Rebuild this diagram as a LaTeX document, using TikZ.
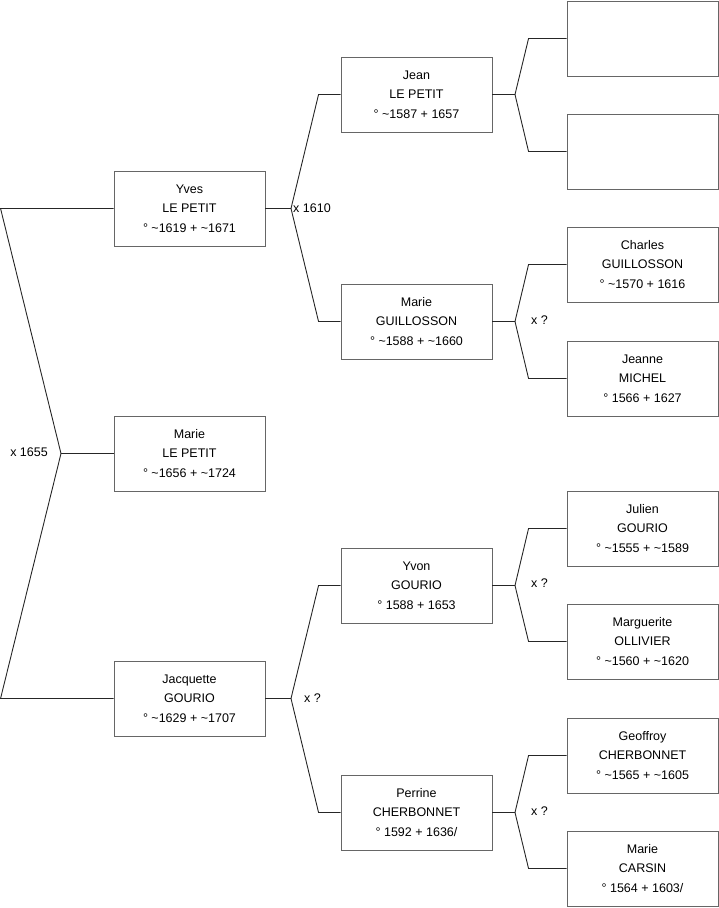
\documentclass[tikz,border=0pt]{standalone}
\usepackage{fontspec}
\setmainfont{Liberation Sans}
\newcommand{\circa}{\textasciitilde}
\tikzset{
  p/.style={draw=black!60,line width=0.9pt,minimum width=151pt,minimum height=75pt,inner sep=0pt,align=center,font=\fontsize{12.5}{19.5}\selectfont},
  lk/.style={draw=black!85,line width=0.9pt},
  mx/.style={inner sep=0pt,font=\fontsize{12.5}{15}\selectfont},
}
\begin{document}
\begin{tikzpicture}[x=1pt,y=-1pt]
\useasboundingbox (0,0) rectangle (719,908);
% generation 1
\node[p] (yves) at (189.5,208.5){Yves\\LE PETIT\\° \circa1619 + \circa1671};
\node[p] (marie) at (189.5,453.5){Marie\\LE PETIT\\° \circa1656 + \circa1724};
\node[p] (jacq) at (189.5,698.5){Jacquette\\GOURIO\\° \circa1629 + \circa1707};
% generation 2
\node[p] (jean) at (416.5,94.5){Jean\\LE PETIT\\° \circa1587 + 1657};
\node[p] (marieg) at (416.5,321.5){Marie\\GUILLOSSON\\° \circa1588 + \circa1660};
\node[p] (yvon) at (416.5,585.5){Yvon\\GOURIO\\° 1588 + 1653};
\node[p] (perrine) at (416.5,812.5){Perrine\\CHERBONNET\\° 1592 + 1636/};
% generation 3
\node[p] (e1) at (642.5,38.5){}; \node[p] (e2) at (642.5,151.5){};
\node[p] (charles) at (642.5,264.5){Charles\\GUILLOSSON\\° \circa1570 + 1616};
\node[p] (jeanne) at (642.5,378.5){Jeanne\\MICHEL\\° 1566 + 1627};
\node[p] (julien) at (642.5,528.5){Julien\\GOURIO\\° \circa1555 + \circa1589};
\node[p] (marg) at (642.5,641.5){Marguerite\\OLLIVIER\\° \circa1560 + \circa1620};
\node[p] (geof) at (642.5,755.5){Geoffroy\\CHERBONNET\\° \circa1565 + \circa1605};
\node[p] (carsin) at (642.5,868.5){Marie\\CARSIN\\° 1564 + 1603/};
% junctions
\coordinate (j0) at (61,453.5); \coordinate (j1) at (291,208.5); \coordinate (j2) at (291,698.5);
\coordinate (j3) at (515,94.5); \coordinate (j4) at (515,321.5);
\coordinate (j5) at (515,585.5); \coordinate (j6) at (515,812.5);
% couples
\draw[lk] (yves.west) -- ([xshift=-113pt]yves.west) -- (j0) -- ([xshift=-113pt]jacq.west) -- (jacq.west);
\draw[lk] (j0) -- (marie.west);
\draw[lk] (yves.east) -- (j1); \draw[lk] (jean.west) -- ([xshift=-22pt]jean.west) -- (j1) -- ([xshift=-22pt]marieg.west) -- (marieg.west);
\draw[lk] (jacq.east) -- (j2); \draw[lk] (yvon.west) -- ([xshift=-22pt]yvon.west) -- (j2) -- ([xshift=-22pt]perrine.west) -- (perrine.west);
\draw[lk] (jean.east) -- (j3); \draw[lk] (e1.west) -- ([xshift=-38pt]e1.west) -- (j3) -- ([xshift=-38pt]e2.west) -- (e2.west);
\draw[lk] (marieg.east) -- (j4); \draw[lk] (charles.west) -- ([xshift=-38pt]charles.west) -- (j4) -- ([xshift=-38pt]jeanne.west) -- (jeanne.west);
\draw[lk] (yvon.east) -- (j5); \draw[lk] (julien.west) -- ([xshift=-38pt]julien.west) -- (j5) -- ([xshift=-38pt]marg.west) -- (marg.west);
\draw[lk] (perrine.east) -- (j6); \draw[lk] (geof.west) -- ([xshift=-38pt]geof.west) -- (j6) -- ([xshift=-38pt]carsin.west) -- (carsin.west);
% marriages
\node[mx,anchor=east] (m0) at (48,452){x 1655};
\node[mx,anchor=west] (m1) at (293,208){x 1610};
\node[mx,anchor=west] (m2) at (304,698){x ?};
\node[mx,anchor=west] (m4) at (531,320){x ?};
\node[mx,anchor=west] (m5) at (531,583){x ?};
\node[mx,anchor=west] (m6) at (531,811){x ?};
\end{tikzpicture}
\end{document}
